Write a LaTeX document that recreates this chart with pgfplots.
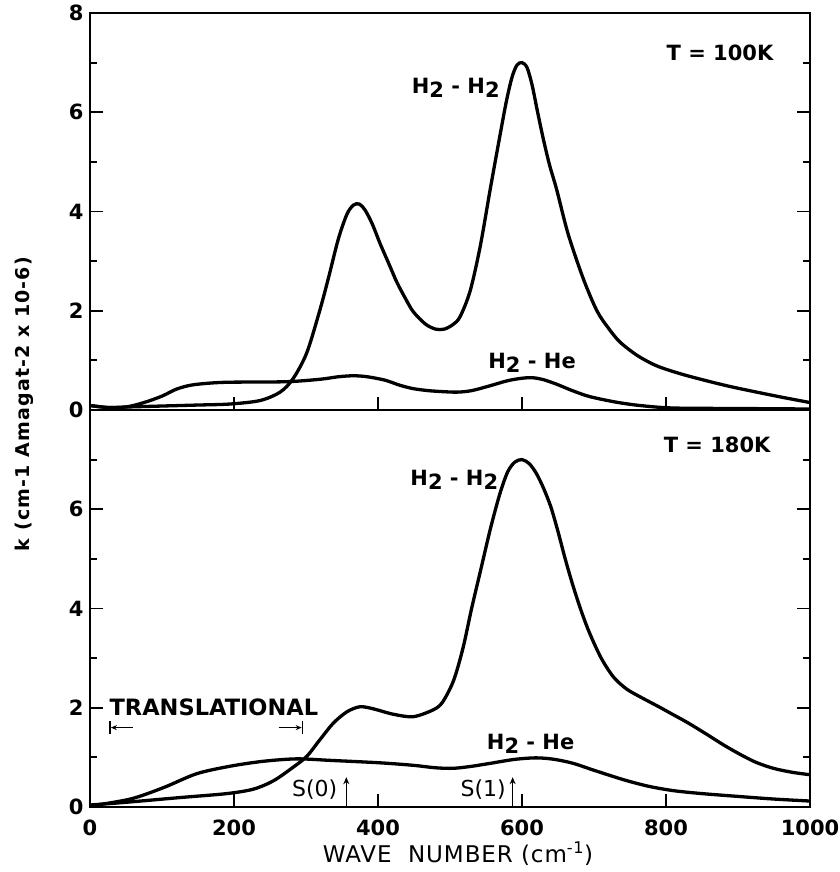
\documentclass[border=0pt]{standalone}
\usepackage{pgfplots}
\pgfplotsset{compat=1.18}
\usepackage{fontspec}
\setmainfont{DejaVu Sans}
\usetikzlibrary{arrows.meta}
\newcommand{\HH}{H\raisebox{-0.35ex}{2}}
\newcommand{\lab}{\bfseries\fontsize{21}{24}\selectfont}

\pgfplotstableread{
x y
0 0.09
25 0.05
50 0.06
100 0.08
150 0.10
194 0.12
236 0.19
264 0.36
282 0.63
301 1.15
319 2.0
331 2.65
345 3.45
357 3.95
366 4.13
374 4.15
382 4.03
392 3.75
403 3.35
415 2.95
426 2.58
438 2.25
449 1.98
466 1.73
480 1.63
492 1.63
504 1.72
514 1.88
528 2.4
542 3.3
556 4.46
569 5.5
578 6.2
586 6.7
593 6.95
600 7.0
607 6.9
614 6.55
621 6.05
629 5.5
638 4.95
648 4.45
664 3.55
685 2.65
704 2.0
720 1.65
736 1.37
760 1.1
787 0.89
820 0.73
856 0.59
890 0.47
926 0.36
960 0.26
1000 0.15
}\hhA

\pgfplotstableread{
x y
0 0.09
25 0.05
50 0.06
75 0.15
100 0.28
120 0.42
140 0.50
165 0.54
194 0.56
273 0.57
320 0.62
345 0.67
366 0.69
385 0.67
410 0.60
430 0.50
449 0.43
470 0.39
490 0.37
510 0.36
530 0.39
556 0.49
580 0.59
600 0.64
615 0.65
630 0.61
648 0.52
670 0.39
694 0.27
730 0.16
764 0.09
810 0.04
900 0.03
1000 0.02
}\heA

\pgfplotstableread{
x y
0 0.04
46 0.09
125 0.19
190 0.27
227 0.36
255 0.53
282 0.8
301 1.02
319 1.35
338 1.69
357 1.92
375 2.02
393 1.98
421 1.87
449 1.82
477 1.96
490 2.12
505 2.55
518 3.2
530 4.0
543 4.8
556 5.6
569 6.3
580 6.75
590 6.95
600 7.0
610 6.92
620 6.72
630 6.42
640 6.05
650 5.55
660 5.0
671 4.45
683 3.92
694 3.5
710 3.0
727 2.62
745 2.38
764 2.22
790 2.02
810 1.86
830 1.7
856 1.47
880 1.25
903 1.06
925 0.9
949 0.78
975 0.7
1000 0.65
}\hhB

\pgfplotstableread{
x y
0 0.02
56 0.16
102 0.39
148 0.67
194 0.82
240 0.92
287 0.97
333 0.94
403 0.89
449 0.84
480 0.79
505 0.78
530 0.82
556 0.88
590 0.96
620 0.99
645 0.96
671 0.88
700 0.74
741 0.55
775 0.42
810 0.33
850 0.27
903 0.21
950 0.16
1000 0.12
}\heB

\begin{document}
\begin{tikzpicture}
\pgfplotsset{
  common/.style={
    scale only axis, width=720pt, height=397pt,
    xmin=0, xmax=1000, ymin=0, ymax=8,
    xtick={0,200,...,1000},
    minor ytick={1,3,5,7},
    xtick pos=left,
    tick align=inside,
    major tick length=13pt, minor tick length=7pt,
    axis line style={line width=2.4pt},
    every tick/.style={line width=1.8pt, black},
    tick label style={font=\bfseries\fontsize{21}{25}\selectfont},
    /pgf/number format/assume math mode=true,
    /pgf/number format/set thousands separator={},
    yticklabel style={xshift=-3pt},
  },
  curve/.style={line width=3.3pt, smooth, tension=0.5, black},
}
\begin{axis}[common, name=top, at={(0,0)}, anchor=south west,
  ytick={0,2,4,6,8}, xticklabels={}]
\addplot[curve] table {\hhA};
\addplot[curve] table {\heA};
\node[font=\lab] at (axis cs:875,7.2) {T = 100K};
\node[font=\lab] at (axis cs:508,6.5) {\HH\ - \HH};
\node[font=\lab] at (axis cs:614,0.95) {\HH\ - He};
\end{axis}
\begin{axis}[common, name=bot, at={(top.south west)}, anchor=north west,
  ytick={0,2,4,6},
  xticklabel style={yshift=-9pt},
  xlabel={WAVE\ \ NUMBER\ (cm\textsuperscript{-1})},
  xlabel style={font=\fontsize{23}{26}\selectfont\addfontfeature{LetterSpace=4}, yshift=1pt, xshift=8pt},
  clip=false]
\addplot[curve] table {\hhB};
\addplot[curve] table {\heB};
\addplot[line width=1.6pt, -{Stealth[length=7pt,width=6pt]}] coordinates {(356,0) (356,0.6)};
\addplot[line width=1.6pt, -{Stealth[length=7pt,width=6pt]}] coordinates {(587,0) (587,0.6)};
\addplot[line width=1.4pt, -{Stealth[length=6pt,width=5pt]}] coordinates {(60,1.6) (29,1.6)};
\addplot[line width=1.4pt] coordinates {(28,1.47) (28,1.73)};
\addplot[line width=1.4pt, -{Stealth[length=6pt,width=5pt]}] coordinates {(262,1.6) (294,1.6)};
\addplot[line width=1.4pt] coordinates {(295,1.47) (295,1.73)};
\node[font=\lab] at (axis cs:871,7.3) {T = 180K};
\node[font=\lab] at (axis cs:506,6.6) {\HH\ - \HH};
\node[font=\lab] at (axis cs:612,1.27) {\HH\ - He};
\node[font=\bfseries\fontsize{22.5}{26}\selectfont, anchor=west, inner sep=0pt] at (axis cs:27,2.0) {TRANSLATIONAL};
\node[font=\fontsize{22}{26}\selectfont] at (axis cs:312,0.35) {S(0)};
\node[font=\fontsize{22}{26}\selectfont] at (axis cs:546,0.35) {S(1)};
\end{axis}
\node[rotate=90, font=\bfseries\fontsize{19}{22}\selectfont\addfontfeature{LetterSpace=6}] at ([xshift=-66pt,yshift=6pt]top.south west) {k (cm-1 Amagat-2 x 10-6)};
\pgfresetboundingbox
\path ([xshift=-90pt,yshift=13pt]top.north west) rectangle ++(839pt,-872pt);
\end{tikzpicture}
\end{document}
